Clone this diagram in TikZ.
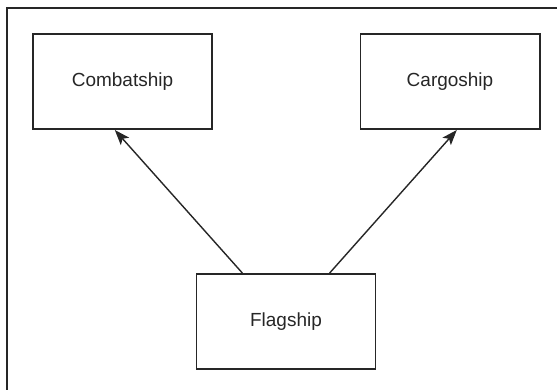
\documentclass[tikz,border=0pt]{standalone}
\usepackage{fontspec}
\setmainfont{Liberation Sans}
\usetikzlibrary{arrows.meta}

\begin{document}
\begin{tikzpicture}[x=0.03cm,y=-0.03cm]
\useasboundingbox (0,0) rectangle (557,390);
\begin{scope}
    \clip (0,0) rectangle (557,390);
    \draw [line width=1.2pt,black!85] (7,8) rectangle (570,400);
\end{scope}
\begin{scope}[every node/.style={rectangle,line width=1.7pt,draw=black!85,
              minimum width=179*0.03cm,minimum height=95*0.03cm,
              font=\fontsize{16.2}{19}\selectfont,text=black!85}]
    \node (C) at (122.5,81.5) {Combatship};
    \node (G) at (450,81.5) {Cargoship};
    \node (F) at (286,321.5) {Flagship};
\end{scope}
\begin{scope}[>={Stealth[length=13pt,width=9.5pt,inset=3pt]},
              every edge/.style={draw=black!85,line width=1.2pt}]
    \path [->] (F.132) edge (C.261);
    \path [->] (F.48) edge (G.278);
\end{scope}
\end{tikzpicture}
\end{document}
